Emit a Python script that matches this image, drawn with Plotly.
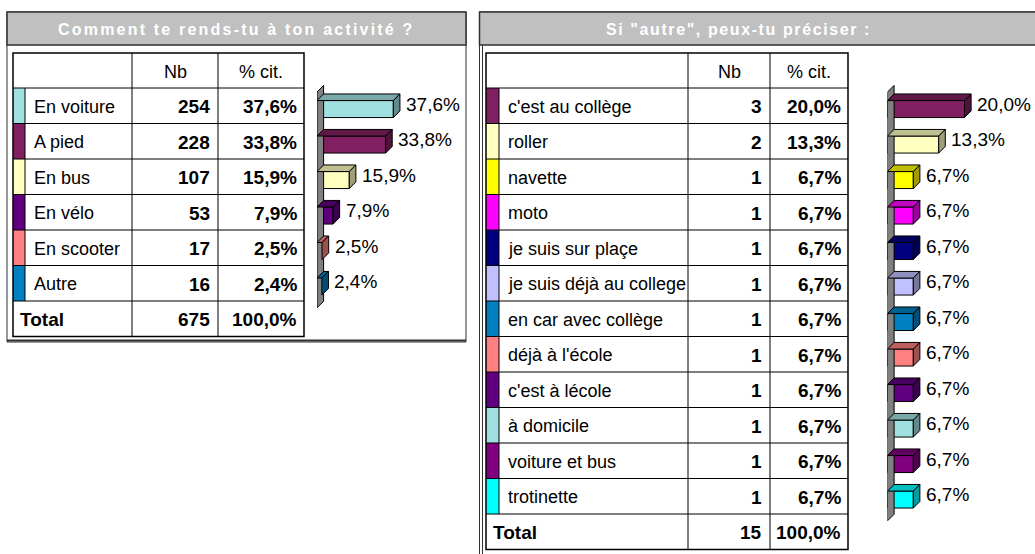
import plotly.graph_objects as go

# ---------------- data ----------------
left_title = "Comment te rends-tu à ton activité ?"
left_categories = ["En voiture", "A pied", "En bus", "En vélo", "En scooter", "Autre"]
left_counts = [254, 228, 107, 53, 17, 16]
left_pcts = [37.6, 33.8, 15.9, 7.9, 2.5, 2.4]
left_total = 675
left_colors = ["#A0E0E0", "#802060", "#FFFFC0", "#600080", "#FF8080", "#0080C0"]

right_title = "Si \"autre\", peux-tu préciser :"
right_categories = ["c'est au collège", "roller", "navette", "moto", "je suis sur plaçe",
                    "je suis déjà au college", "en car avec collège", "déjà à l'école",
                    "c'est à lécole", "à domicile", "voiture et bus", "trotinette"]
right_counts = [3, 2, 1, 1, 1, 1, 1, 1, 1, 1, 1, 1]
right_pcts = [20.0, 13.3, 6.7, 6.7, 6.7, 6.7, 6.7, 6.7, 6.7, 6.7, 6.7, 6.7]
right_total = 15
right_colors = ["#802060", "#FFFFC0", "#FFFF00", "#FF00FF", "#000080", "#C0C0FF",
                "#0080C0", "#FF8080", "#600080", "#A0E0E0", "#800080", "#00FFFF"]

header_labels = ["Nb", "% cit."]
total_label = "Total"

# ---------------- page geometry (pixels) ----------------
W, H = 1035, 554
FONT = "Liberation Sans, Arial, sans-serif"
BODY = 19            # numbers and bar labels
LABEL = 18           # category names in the tables
HDR_TOP, HDR_BOT, ROW_H = 53, 88, 35.5
DEPTH = 6.6          # 3-D depth of bars, px
FRONT_H = 17         # bar front height, px
FRONT_OFF = 3.3      # bar front centre below row centre, px


def X(p):
    return p / W


def Y(p):
    return 1 - p / H


def fmt_pct(v):
    return f"{v:.1f}".replace(".", ",") + "%"


def shade(hex_color, k):
    h = hex_color.lstrip("#")
    r, g, b = (int(h[i:i + 2], 16) for i in (0, 2, 4))
    return "rgb({},{},{})".format(int(r * k), int(g * k), int(b * k))


shapes = []
annotations = []
traces = []


def line(x0, y0, x1, y1, color="#000000", width=1):
    shapes.append(dict(type="line", xref="paper", yref="paper",
                       x0=X(x0), y0=Y(y0), x1=X(x1), y1=Y(y1),
                       line=dict(color=color, width=width)))


def rect(x0, y0, x1, y1, fill=None, color="#000000", width=1):
    shapes.append(dict(type="rect", xref="paper", yref="paper",
                       x0=X(x0), y0=Y(y0), x1=X(x1), y1=Y(y1),
                       fillcolor=fill if fill else "rgba(0,0,0,0)",
                       line=dict(color=color, width=width), layer="below"))


def text(x, y, s, anchor="left", bold=False, size=BODY, color="#000000"):
    annotations.append(dict(xref="paper", yref="paper", x=X(x), y=Y(y), text=s,
                            showarrow=False, xanchor=anchor, yanchor="middle",
                            font=dict(family=FONT, size=size, color=color,
                                      weight="bold" if bold else "normal")))


def table(cols, stripe_r, cats, counts, pcts, colors, total):
    n = len(cats)
    bottom = HDR_BOT + (n + 1) * ROW_H
    # header
    text((cols[1] + cols[2]) / 2, (HDR_TOP + HDR_BOT) / 2 + 1, header_labels[0], "center", size=LABEL)
    text((cols[2] + cols[3]) / 2, (HDR_TOP + HDR_BOT) / 2 + 1, header_labels[1], "center", size=LABEL)
    for i in range(n):
        top = HDR_BOT + i * ROW_H
        mid = top + ROW_H / 2 + 1
        rect(cols[0], top, stripe_r, top + ROW_H, fill=colors[i], width=0)
        line(stripe_r, top, stripe_r, top + ROW_H)
        text(stripe_r + 7, mid, cats[i], size=LABEL)
        text(cols[2] - 6, mid, str(counts[i]), "right", bold=True)
        text(cols[3] - 5, mid, fmt_pct(pcts[i]), "right", bold=True)
    top = HDR_BOT + n * ROW_H
    mid = top + ROW_H / 2 + 1
    text(cols[0] + 5, mid, total_label, bold=True)
    text(cols[2] - 6, mid, str(total), "right", bold=True)
    text(cols[3] - 5, mid, fmt_pct(100.0), "right", bold=True)
    # grid
    for k in range(n + 2):
        yy = HDR_BOT + k * ROW_H
        line(cols[0], yy, cols[3], yy)
    for c in cols[1:3]:
        line(c, HDR_TOP, c, bottom)
    rect(cols[0], HDR_TOP, cols[3], bottom, width=1.5)


def bars3d(xa, ya, x_ppu, cats, pcts, colors):
    n = len(cats)
    dx = DEPTH / x_ppu
    dy = DEPTH / ROW_H
    w = FRONT_H / ROW_H
    idx = list(range(n))
    # wall behind the bars
    wt, wb = -0.48, n - 1 + 0.6
    traces.append(go.Scatter(x=[0, 0, dx, dx, 0], y=[wb, wt, wt - dy, wb - dy, wb],
                             xaxis=xa, yaxis=ya, mode="lines", fill="toself",
                             fillcolor="#808080", line=dict(color="#000000", width=1),
                             hoverinfo="skip", showlegend=False))
    for i in idx:
        v = pcts[i]
        yt, yb = i - w / 2, i + w / 2
        # top face
        traces.append(go.Scatter(x=[0, v, v + dx, dx, 0], y=[yt, yt, yt - dy, yt - dy, yt],
                                 xaxis=xa, yaxis=ya, mode="lines", fill="toself",
                                 fillcolor=shade(colors[i], 0.75),
                                 line=dict(color="#000000", width=1),
                                 hoverinfo="skip", showlegend=False))
        # side face
        traces.append(go.Scatter(x=[v, v, v + dx, v + dx, v], y=[yt, yb, yb - dy, yt - dy, yt],
                                 xaxis=xa, yaxis=ya, mode="lines", fill="toself",
                                 fillcolor=shade(colors[i], 0.62),
                                 line=dict(color="#000000", width=1),
                                 hoverinfo="skip", showlegend=False))
        annotations.append(dict(xref=xa, yref=ya, x=v + dx, y=i, text=fmt_pct(v),
                                showarrow=False, xanchor="left", yanchor="middle",
                                xshift=4, yshift=5,
                                font=dict(family=FONT, size=BODY, color="#000000")))
    # front faces
    traces.append(go.Bar(x=pcts, y=idx, orientation="h", width=w, xaxis=xa, yaxis=ya,
                         marker=dict(color=colors, line=dict(color="#000000", width=1)),
                         hoverinfo="skip", showlegend=False))


# ---------------- left panel ----------------
rect(7, 12, 466, 342, fill="#FFFFFF", color="#303030", width=1)
line(7, 340.5, 466, 340.5, color="#303030", width=2)
rect(7, 12, 466, 45, fill="#C0C0C0", color="#303030", width=1.5)
annotations.append(dict(xref="paper", yref="paper", x=X(236.5), y=Y(29.5),
                        text='<span style="letter-spacing:2.2px">' + left_title + "</span>",
                        showarrow=False, xanchor="center", yanchor="middle",
                        font=dict(family=FONT, size=16, color="#FFFFFF", weight="bold")))
table([13, 132, 218, 304], 25, left_categories, left_counts, left_pcts, left_colors, left_total)

# ---------------- right panel ----------------
rect(479.5, 12, 1040, 560, fill="#FFFFFF", color="#303030", width=1)
line(482.5, 45, 482.5, 560, color="#303030", width=1)
rect(479.5, 12, 1040, 45, fill="#C0C0C0", color="#303030", width=1.5)
annotations.append(dict(xref="paper", yref="paper", x=X(738), y=Y(29.5),
                        text='<span style="letter-spacing:1.6px">' + right_title + "</span>",
                        showarrow=False, xanchor="center", yanchor="middle",
                        font=dict(family=FONT, size=16, color="#FFFFFF", weight="bold")))
table([486, 688, 770, 848], 499, right_categories, right_counts, right_pcts, right_colors, right_total)

# ---------------- 3-D bar charts ----------------
L_PPU, R_PPU = 2.03, 3.85
bars3d("x", "y", L_PPU, left_categories, left_pcts, left_colors)
bars3d("x2", "y2", R_PPU, right_categories, right_pcts, right_colors)

fig = go.Figure(data=traces)
hidden = dict(visible=False, showgrid=False, zeroline=False, fixedrange=True)
FRONT0 = HDR_BOT + ROW_H / 2 + FRONT_OFF
fig.update_layout(
    width=W, height=H, margin=dict(l=0, r=0, t=0, b=0),
    paper_bgcolor="#FFFFFF", plot_bgcolor="rgba(0,0,0,0)",
    showlegend=False, barmode="overlay",
    shapes=shapes, annotations=annotations,
    xaxis=dict(domain=[X(317), X(470)], range=[0, (470 - 317) / L_PPU], **hidden),
    yaxis=dict(domain=[Y(330), Y(70)], range=[(330 - FRONT0) / ROW_H, (70 - FRONT0) / ROW_H], **hidden),
    xaxis2=dict(domain=[X(887.5), 1.0], range=[0, (W - 887.5) / R_PPU], **hidden),
    yaxis2=dict(domain=[Y(545), Y(70)], range=[(545 - FRONT0) / ROW_H, (70 - FRONT0) / ROW_H], **hidden),
)

fig.write_html("out.html")
